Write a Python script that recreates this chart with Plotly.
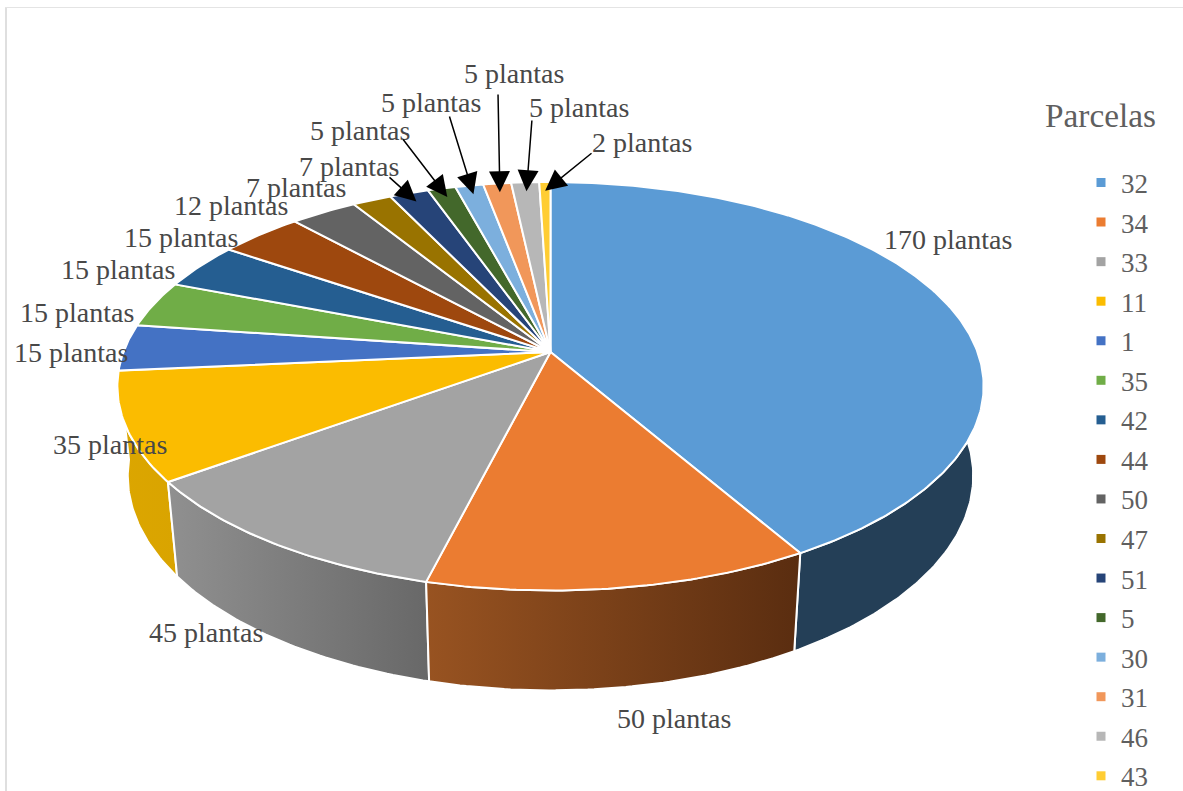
import math
import numpy as np
import plotly.graph_objects as go

# ---------- data ----------
parcelas = ["32", "34", "33", "11", "1", "35", "42", "44", "50", "47", "51", "5", "30", "31", "46", "43"]
plantas = [170, 50, 45, 35, 15, 15, 15, 15, 12, 7, 7, 5, 5, 5, 5, 2]
unit = "plantas"

# ---------- styles ----------
top_colors = ["#5b9bd5", "#eb7c31", "#a3a3a3", "#fbbc00", "#4472c4", "#70ad47", "#255e91", "#9e480e",
              "#636363", "#997300", "#264478", "#43682b", "#7cafdd", "#f1975a", "#b7b7b7", "#ffcd33"]
# only these four walls face the viewer: (left colour, right colour)
wall_colors = {"11": ("#dca600", "#d9a400"), "32": ("#243f57", "#243f57"),
               "33": ("#909090", "#686868"), "34": ("#985321", "#5a2d10")}
wall_order = ["32", "11", "33", "34"]
label_pos = [(948, 239), (673.5, 718), (205.5, 632), (109.5, 444), (71, 352), (77, 312), (118, 269), (180.5, 237),
             (231, 205), (296, 187), (349, 166), (360, 130), (431, 102), (514, 73), (579, 107), (642, 142)]
# where each leader line starts, for the slices that have one
leader_start = {"51": (388, 176), "5": (402, 138), "30": (449, 115), "31": (498, 93), "46": (532, 119), "43": (593, 152)}
SERIF = "Liberation Serif"

# ---------- projection of the tilted disc ----------
CX, CY, A, B, K = 550.5, 352, 427, 198.5, 0.1676


def top(theta, r=1.0):
    x, y = r * np.sin(theta), -r * np.cos(theta)
    d = 1 - K * y
    return CX + A * x / d, CY + B * y / d


def bottom(theta):
    x, y = top(theta)
    return CX + 0.976 * (x - CX), 650 + 1.05 * (y - 552)


total = sum(plantas)
edges = np.cumsum([0] + plantas) / total * 2 * math.pi
fig = go.Figure()


def arc(i):
    n = max(int((edges[i + 1] - edges[i]) * 80), 3)
    return np.linspace(edges[i], edges[i + 1], n)


# walls
for name in wall_order:
    i = parcelas.index(name)
    t = arc(i)
    tx, ty = top(t)
    bx, by = bottom(t)
    c0, c1 = wall_colors[name]
    fig.add_trace(go.Scatter(
        x=np.r_[tx, bx[::-1], tx[0]], y=np.r_[ty, by[::-1], ty[0]], mode="lines", fill="toself",
        line=dict(color="white", width=2),
        fillgradient=dict(type="horizontal", colorscale=[[0, c0], [1, c1]]),
        hoverinfo="skip", showlegend=False))

# top surface
for i, name in enumerate(parcelas):
    tx, ty = top(arc(i))
    fig.add_trace(go.Scatter(
        x=np.r_[CX, tx, CX], y=np.r_[CY, ty, CY], mode="lines", fill="toself", fillcolor=top_colors[i],
        line=dict(color="white", width=2), name=name, showlegend=False,
        hovertemplate=f"Parcela {name}: {plantas[i]} {unit}<extra></extra>"))

# legend entries
for i, name in enumerate(parcelas):
    fig.add_trace(go.Scatter(
        x=[None], y=[None], mode="markers", name=name, legendgroup=name, showlegend=True,
        marker=dict(symbol="square", size=9, color=top_colors[i])))

annotations = []
for i, name in enumerate(parcelas):
    lx, ly = label_pos[i]
    annotations.append(dict(x=lx, y=ly, xref="x", yref="y", text=f"{plantas[i]} {unit}", showarrow=False,
                            font=dict(family=SERIF, size=28, color="#484848"),
                            xanchor="center", yanchor="middle"))
    if name in leader_start:
        mid = (edges[i] + edges[i + 1]) / 2
        hx, hy = top(mid, 0.94)
        sx, sy = leader_start[name]
        annotations.append(dict(x=float(hx), y=float(hy), ax=sx, ay=sy, xref="x", yref="y", axref="x", ayref="y",
                                text="", showarrow=True, arrowhead=2, arrowsize=2.8, arrowwidth=1.5,
                                arrowcolor="black", standoff=0, startstandoff=0))
annotations.append(dict(x=1100.5, y=115, xref="x", yref="y", text="Parcelas", showarrow=False,
                        font=dict(family=SERIF, size=33.3, color="#5f5f5f"), xanchor="center", yanchor="middle"))

fig.update_layout(
    width=1183, height=791, margin=dict(l=0, r=0, t=0, b=0, autoexpand=False),
    paper_bgcolor="white", plot_bgcolor="white",
    xaxis=dict(range=[0, 1183], visible=False, fixedrange=True),
    yaxis=dict(range=[791, 0], visible=False, fixedrange=True),
    annotations=annotations,
    shapes=[dict(type="line", x0=6, x1=6, y0=7, y1=791, xref="x", yref="y", line=dict(color="#dfdfdf", width=2), layer="below"),
            dict(type="line", x0=5, x1=1183, y0=7.5, y1=7.5, xref="x", yref="y", line=dict(color="#e4e4e4", width=1), layer="below")],
    legend=dict(x=1081 / 1183, xanchor="left", y=1 - 158.5 / 791, yanchor="top", maxheight=720,
                font=dict(family=SERIF, size=27, color="#5f5f5f"), tracegroupgap=1.45, bgcolor="rgba(0,0,0,0)",
                itemsizing="trace", traceorder="grouped"),
    showlegend=True,
)
fig.write_html("out.html", config={"displayModeBar": False},
               post_script="document.body.style.margin='0';document.documentElement.style.overflow='hidden';")
